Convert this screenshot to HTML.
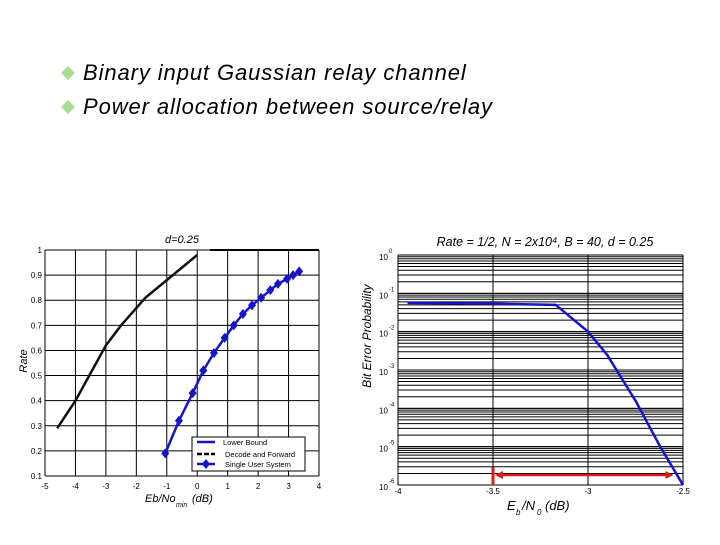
<!DOCTYPE html>
<html><head><meta charset="utf-8"><style>
body{margin:0;background:#fff;width:720px;height:540px;overflow:hidden;font-family:"Liberation Sans",sans-serif}
</style></head><body>
<svg id="svg" width="720" height="540" xmlns="http://www.w3.org/2000/svg">
<rect width="720" height="540" fill="#fff"/>
<g font-style="italic" font-size="22" letter-spacing="0.9" fill="#000">
<path d="M68 66 L75 73 L68 80 L61 73 Z" fill="#a8dc90"/>
<text x="83" y="80">Binary input Gaussian relay channel</text>
<path d="M68 100 L75 107 L68 114 L61 107 Z" fill="#a8dc90"/>
<text x="83" y="114">Power allocation between source/relay</text>
</g>
<g id="left"></g>
<g id="right"></g>
</svg>
<script>
// Left chart data
const dfX=[-4.6,-4,-3,-2.5,-1.7,-1,0];
const dfY=[0.29,0.4,0.62,0.7,0.81,0.88,0.98];
const suX=[-1.05,-0.6,-0.15,0.2,0.55,0.9,1.2,1.5,1.8,2.1,2.4,2.65,2.95,3.15,3.35];
const suY=[0.19,0.32,0.43,0.52,0.59,0.65,0.70,0.745,0.78,0.81,0.84,0.865,0.885,0.90,0.915];
const lxTicks=[-5,-4,-3,-2,-1,0,1,2,3,4];
const lyTicks=[0.1,0.2,0.3,0.4,0.5,0.6,0.7,0.8,0.9,1];
// Right chart data
const berX=[-3.95,-3.5,-3.17,-3,-2.9,-2.75,-2.62,-2.5];
const berLog=[-1.25,-1.27,-1.3,-2.0,-2.6,-3.8,-5.0,-6];
const rxTicks=[-4,-3.5,-3,-2.5];
const rxLabels=['-4','-3.5','-3','-2.5'];
const ryExp=[0,-1,-2,-3,-4,-5,-6];
const arrowRange=[-3.5,-2.55];

const NS='http://www.w3.org/2000/svg';
function mk(p,tag,at,txt){const e=document.createElementNS(NS,tag);for(const k in at)e.setAttribute(k,at[k]);if(txt!==undefined)e.textContent=txt;p.appendChild(e);return e;}

// ----- left chart
const L=document.getElementById('left');
const lx=v=>45+(v+5)*(274/9), ly=v=>476-(v-0.1)*(226/0.9);
for(const t of lxTicks){
 const g=mk(L,'line',{x1:lx(t),x2:lx(t),y1:ly(1),y2:ly(0.1),stroke:'#000','stroke-width':1});
 
 const tx=mk(L,'text',{x:lx(t),y:489,'font-size':8,'text-anchor':'middle'},String(t));
 
}
for(const t of lyTicks){
 const g=mk(L,'line',{x1:lx(-5),x2:lx(4),y1:ly(t),y2:ly(t),stroke:'#000','stroke-width':1});
 
 const tx=mk(L,'text',{x:lx(-5)-3,y:ly(t)+3,'font-size':8,'text-anchor':'end'},String(t));
 
}
let e=mk(L,'line',{x1:210,x2:lx(4),y1:ly(1),y2:ly(1),stroke:'#000','stroke-width':2});

e=mk(L,'polyline',{points:dfX.map((x,i)=>lx(x)+','+ly(dfY[i])).join(' '),fill:'none',stroke:'#111','stroke-width':2.5});

e=mk(L,'polyline',{points:suX.map((x,i)=>lx(x)+','+ly(suY[i])).join(' '),fill:'none',stroke:'#1515c8','stroke-width':2.5});

suX.forEach((x,i)=>{const cx=lx(x),cy=ly(suY[i]);
 const m=mk(L,'path',{d:`M${cx} ${cy-5}L${cx+4} ${cy}L${cx} ${cy+5}L${cx-4} ${cy}Z`,fill:'#1515c8'});
 });
e=mk(L,'text',{x:182,y:243,'font-size':11,'font-style':'italic','text-anchor':'middle'},'d=0.25');

e=mk(L,'text',{x:0,y:0,'font-size':11,'font-style':'italic','text-anchor':'middle',transform:'translate(27,361) rotate(-90)'},'Rate');

e=mk(L,'text',{x:145,y:502,'font-size':11,'font-style':'italic'},'Eb/No');

mk(L,'text',{x:176,y:507,'font-size':7,'font-style':'italic'},'min');
mk(L,'text',{x:192,y:502,'font-size':11,'font-style':'italic'},'(dB)');
// legend
const lg=mk(L,'g',{});

mk(lg,'rect',{x:192,y:437,width:113,height:34,fill:'#fff',stroke:'#000','stroke-width':1});
mk(lg,'line',{x1:197,x2:215,y1:442,y2:442,stroke:'#1515c8','stroke-width':2.5});
mk(lg,'line',{x1:197,x2:215,y1:454,y2:454,stroke:'#000','stroke-width':2.5,'stroke-dasharray':'5 2'});
mk(lg,'line',{x1:197,x2:215,y1:464,y2:464,stroke:'#1515c8','stroke-width':2.5});
mk(lg,'path',{d:'M206 459L210 464L206 469L202 464Z',fill:'#1515c8'});
mk(lg,'text',{x:223,y:445,'font-size':7.5},'Lower Bound');
mk(lg,'text',{x:225,y:457,'font-size':7.5},'Decode and Forward');
mk(lg,'text',{x:225,y:467,'font-size':7.5},'Single User System');

// ----- right chart
const R=document.getElementById('right');
const rx=v=>398+(v+4)*(285/1.5), ry=l=>255-l*(230/6);
for(let d=0;d>-6;d--){for(let m=1;m<=10;m++){const yv=ry(d-1+Math.log10(m));
 const g=mk(R,'line',{x1:rx(-4),x2:rx(-2.5),y1:yv,y2:yv,stroke:'#000','stroke-width':1});
 }}
rxTicks.forEach((t,i)=>{
 const g=mk(R,'line',{x1:rx(t),x2:rx(t),y1:ry(0),y2:ry(-6),stroke:'#000','stroke-width':1});
 
 const tx=mk(R,'text',{x:rx(t),y:494,'font-size':8,'text-anchor':'middle'},rxLabels[i]);
 });
for(const d of ryExp){
 const tx=mk(R,'text',{x:379,y:ry(d)+5,'font-size':8},'10');
 
 mk(R,'text',{x:389,y:ry(d)-2,'font-size':6},String(d));}
e=mk(R,'polyline',{points:berX.map((x,i)=>rx(x)+','+ry(berLog[i])).join(' '),fill:'none',stroke:'#1515c8','stroke-width':2.5});

const ay=475;
e=mk(R,'line',{x1:rx(arrowRange[0]),x2:rx(arrowRange[0]),y1:467,y2:485,stroke:'#d81c1c','stroke-width':3});

e=mk(R,'line',{x1:rx(arrowRange[0])+6,x2:rx(arrowRange[1])-6,y1:ay,y2:ay,stroke:'#d81c1c','stroke-width':2.5});

const a0=rx(arrowRange[0]),a1=rx(arrowRange[1]);
mk(R,'path',{d:`M${a0+2} ${ay}L${a0+10} ${ay-4}L${a0+10} ${ay+4}Z`,fill:'#d81c1c'});
mk(R,'path',{d:`M${a1} ${ay}L${a1-8} ${ay-4}L${a1-8} ${ay+4}Z`,fill:'#d81c1c'});
e=mk(R,'text',{x:545,y:246,'font-size':12.5,'font-style':'italic','text-anchor':'middle'},'Rate = 1/2, N = 2x10\u2074, B = 40, d = 0.25');

e=mk(R,'text',{x:0,y:0,'font-size':12,'font-style':'italic','text-anchor':'middle',transform:'translate(371,336) rotate(-90)'},'Bit Error Probability');

e=mk(R,'text',{x:507,y:510,'font-size':13,'font-style':'italic'},'E');

mk(R,'text',{x:516,y:515,'font-size':8,'font-style':'italic'},'b');
mk(R,'text',{x:522,y:510,'font-size':13,'font-style':'italic'},'/N');
mk(R,'text',{x:537,y:515,'font-size':8,'font-style':'italic'},'0');
mk(R,'text',{x:545,y:510,'font-size':13,'font-style':'italic'},'(dB)');
</script>
</body></html>
